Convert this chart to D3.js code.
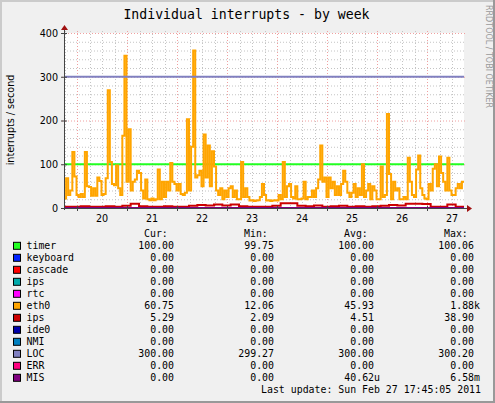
<!DOCTYPE html>
<html>
<head>
<meta charset="utf-8" />
<title>Individual interrupts - by week</title>
<style>
  body { margin: 0; background: #fff; }
  text { font-family: "DejaVu Sans", sans-serif; }
  .mono, .mono text { font-family: "DejaVu Sans Mono", monospace; }
</style>
</head>
<body>
<script src="https://cdn.jsdelivr.net/npm/d3@7"></script>
<script>

// time span of the graph (one week + a day, munin "by week")
var startTime = Date.UTC(2011, 1, 19, 17, 45);
var endTime = Date.UTC(2011, 1, 27, 17, 45);
var hour = 3600 * 1000;

// eth0, one value per hour
var eth0Vals = [22,68,30,40,128,72,30,25,32,25,
                128,50,48,28,45,28,70,62,30,32,
                68,269,105,55,52,97,45,30,165,348,
                60,180,40,60,65,85,80,40,22,65,
                20,18,22,18,20,88,20,60,25,60,
                40,103,60,55,40,55,32,30,35,203,
                40,140,360,70,75,85,50,168,70,143,
                50,130,95,40,30,45,20,40,25,45,
                50,25,40,20,20,105,25,45,25,17,
                18,16,17,18,25,55,30,17,18,16,
                17,18,17,30,20,105,25,50,55,25,
                22,50,20,20,22,60,20,25,25,40,
                25,45,65,143,60,70,25,70,45,60,
                30,50,30,55,85,60,35,25,35,55,
                25,45,30,100,25,40,55,20,50,40,
                20,20,95,25,30,215,78,20,60,40,
                45,20,20,25,20,115,60,30,25,88,
                120,45,30,22,20,55,40,90,100,50,
                118,80,60,40,115,40,30,30,45,55,
                45,60];

// ips (second one), one value every 4 hours
var ipsVals = [3,3,4,3,3,4,3,5,10,4,
               3,3,4,3,3,5,7,6,8,6,
               8,4,3,3,3,5,11,11,5,4,
               6,3,4,5,3,4,3,4,5,7,
               6,10,10,9,3,3,8,3];

// one value per day
var timerVals = [100,100,100,100,100,100,100,100];
var locVals = [300,300,300,300,300,300,300,300];
var zeroVals = [0,0,0,0,0,0,0,0];

var dayLabels = ["20","21","22","23","24","25","26","27"];
var yTicks = [0,100,200,300,400];

// legend
var names = ["timer","keyboard","cascade","ips","rtc","eth0","ips","ide0","NMI","LOC","ERR","MIS"];
var colors = ["#22ff22","#0022ff","#ff0000","#00aaaa","#ff00ff","#ffa500","#cc0000","#0000aa","#0080c0","#8080c0","#ff0080","#800080"];
var curVals = ["100.00","0.00","0.00","0.00","0.00","60.75","5.29","0.00","0.00","300.00","0.00","0.00"];
var minVals = ["99.75","0.00","0.00","0.00","0.00","12.06","2.09","0.00","0.00","299.27","0.00","0.00"];
var avgVals = ["100.00","0.00","0.00","0.00","0.00","45.93","4.51","0.00","0.00","300.00","0.00","40.62u"];
var maxVals = ["100.06","0.00","0.00","0.00","0.00","1.88k","38.90","0.00","0.00","300.20","0.00","6.58m"];

var W = 495, H = 403;
var plot = {left: 64, right: 464, top: 33, bottom: 208};

var svg = d3.select("body").append("svg")
            .attr("width", W)
            .attr("height", H);

// background + shaded frame
svg.append("rect").attr("width", W).attr("height", H).attr("fill", "#f0f0f0");
svg.append("rect").attr("x", 0).attr("y", 0).attr("width", W).attr("height", 2).attr("fill", "#cbcbcb");
svg.append("rect").attr("x", 0).attr("y", 0).attr("width", 2).attr("height", H).attr("fill", "#cbcbcb");
svg.append("rect").attr("x", W - 2).attr("y", 0).attr("width", 2).attr("height", H).attr("fill", "#999");
svg.append("rect").attr("x", 0).attr("y", H - 2).attr("width", W).attr("height", 2).attr("fill", "#999");

svg.append("rect")
   .attr("x", plot.left).attr("y", plot.top)
   .attr("width", plot.right - plot.left).attr("height", plot.bottom - plot.top)
   .attr("fill", "#fff");

var x = d3.scaleUtc().domain([startTime, endTime]).range([plot.left, plot.right]);
var y = d3.scaleLinear().domain([0, 400]).range([plot.bottom, plot.top]);

// grid
var grid = svg.append("g");
var minorY = d3.range(0, 401, 20).filter(v => v % 100 != 0);
grid.selectAll(".hmin").data(minorY).enter().append("line")
    .attr("x1", plot.left).attr("x2", plot.right + 2)
    .attr("y1", d => y(d) + 0.5).attr("y2", d => y(d) + 0.5)
    .attr("stroke", "#c4c4c4").attr("stroke-dasharray", "1,2");

var sixHours = d3.utcHour.every(6).range(new Date(startTime), new Date(endTime))
                 .filter(d => d.getUTCHours() != 0);
grid.selectAll(".vmin").data(sixHours).enter().append("line")
    .attr("x1", d => Math.round(x(d)) + 0.5).attr("x2", d => Math.round(x(d)) + 0.5)
    .attr("y1", plot.top - 2).attr("y2", plot.bottom)
    .attr("stroke", "#c4c4c4").attr("stroke-dasharray", "1,2");

var midnights = d3.utcDay.range(new Date(startTime), new Date(endTime));
grid.selectAll(".vmaj").data(midnights).enter().append("line")
    .attr("x1", d => Math.round(x(d)) + 0.5).attr("x2", d => Math.round(x(d)) + 0.5)
    .attr("y1", plot.top - 2).attr("y2", plot.bottom + 2)
    .attr("stroke", "#f0a0a0").attr("stroke-dasharray", "1,2");

grid.selectAll(".hmaj").data(yTicks.slice(1)).enter().append("line")
    .attr("x1", plot.left - 2).attr("x2", plot.right + 2)
    .attr("y1", d => y(d) + 0.5).attr("y2", d => y(d) + 0.5)
    .attr("stroke", "#f0a0a0").attr("stroke-dasharray", "1,2");

// series
function points(vals, step) {
    var p = vals.map((v, i) => [startTime + i * step, v]);
    p.push([endTime, vals[vals.length - 1]]);
    return p;
}

var line = d3.line()
             .x(d => x(d[0]))
             .y(d => y(d[1]))
             .curve(d3.curveStepAfter);

var seriesVals = [timerVals, zeroVals, zeroVals, zeroVals, zeroVals, eth0Vals, ipsVals, zeroVals, zeroVals, locVals, zeroVals, zeroVals];
var seriesStep = [24*hour, 24*hour, 24*hour, 24*hour, 24*hour, hour, 4*hour, 24*hour, 24*hour, 24*hour, 24*hour, 24*hour];

var lines = svg.append("g").attr("fill", "none").attr("stroke-width", 2);
seriesVals.forEach(function(vals, k){
    lines.append("path")
         .attr("d", line(points(vals, seriesStep[k])))
         .attr("stroke", colors[k]);
});

// axes
var axisCol = "#444";
svg.append("line").attr("x1", plot.left + 0.5).attr("x2", plot.left + 0.5)
   .attr("y1", plot.bottom + 2).attr("y2", plot.top - 4).attr("stroke", axisCol);
svg.append("line").attr("x1", plot.left - 2).attr("x2", plot.right + 4)
   .attr("y1", plot.bottom + 0.5).attr("y2", plot.bottom + 0.5).attr("stroke", axisCol);
svg.append("path")
   .attr("d", "M" + (plot.left - 3) + "," + (plot.top - 3) + "L" + (plot.left + 0.5) + "," + (plot.top - 8) + "L" + (plot.left + 4) + "," + (plot.top - 3) + "Z")
   .attr("fill", "#a01010");
svg.append("path")
   .attr("d", "M" + (plot.right + 3) + "," + (plot.bottom - 3) + "L" + (plot.right + 8) + "," + (plot.bottom + 0.5) + "L" + (plot.right + 3) + "," + (plot.bottom + 4) + "Z")
   .attr("fill", "#a01010");

// tick marks
svg.selectAll(".yt").data(yTicks).enter().append("line")
   .attr("x1", plot.left - 3).attr("x2", plot.left + 3)
   .attr("y1", d => y(d) + 0.5).attr("y2", d => y(d) + 0.5)
   .attr("stroke", axisCol);
svg.selectAll(".xt").data(midnights).enter().append("line")
   .attr("x1", d => Math.round(x(d)) + 0.5).attr("x2", d => Math.round(x(d)) + 0.5)
   .attr("y1", plot.bottom - 2).attr("y2", plot.bottom + 3)
   .attr("stroke", axisCol);

// tick labels
svg.selectAll(".yl").data(yTicks).enter().append("text")
   .attr("x", plot.left - 6).attr("y", d => y(d) + 3.8)
   .attr("text-anchor", "end").attr("font-size", "9.6px")
   .text(d => d);

svg.selectAll(".xl").data(midnights).enter().append("text")
   .attr("x", d => x(d) + x(startTime + 12*hour) - x(startTime))
   .attr("y", 221.5)
   .attr("text-anchor", "middle").attr("font-size", "9.6px")
   .text((d, i) => dayLabels[i]);

// titles
svg.append("text").attr("class", "mono")
   .attr("x", 246.5).attr("y", 18.5)
   .attr("text-anchor", "middle").attr("font-size", "13.2px")
   .text("Individual interrupts - by week");

svg.append("text")
   .attr("transform", "translate(14,120) rotate(-90)")
   .attr("text-anchor", "middle").attr("font-size", "9.6px")
   .text("interrupts / second");

svg.append("text")
   .attr("transform", "translate(485.5,5) rotate(90)")
   .attr("font-size", "8px").attr("fill", "#9a9a9a")
   .attr("textLength", 103).attr("lengthAdjust", "spacing")
   .text("RRDTOOL / TOBI OETIKER");

// legend
var legend = svg.append("g").attr("class", "mono").attr("font-size", "9.9px");
var cols = [174, 274, 374, 474];
var heads = ["Cur:", "Min:", "Avg:", "Max:"];
heads.forEach(function(h, c){
    legend.append("text").attr("x", cols[c] - 30).attr("y", 237.3).text(h);
});

var colVals = [curVals, minVals, avgVals, maxVals];
names.forEach(function(n, r){
    var by = 249.3 + 12 * r;
    legend.append("rect")
          .attr("x", 13.5).attr("y", by - 7).attr("width", 7).attr("height", 7)
          .attr("fill", colors[r]).attr("stroke", "#000");
    legend.append("text").attr("x", 26.5).attr("y", by).text(n);
    colVals.forEach(function(vals, c){
        var s = vals[r];
        var suffix = /[a-z]$/.test(s);
        legend.append("text")
              .attr("x", cols[c] + (suffix ? 6 : 0)).attr("y", by)
              .attr("text-anchor", "end")
              .text(s);
    });
});

legend.append("text")
      .attr("x", 481).attr("y", 249.3 + 12 * 12)
      .attr("text-anchor", "end")
      .text("Last update: Sun Feb 27 17:45:05 2011");

</script>
</body>
</html>
